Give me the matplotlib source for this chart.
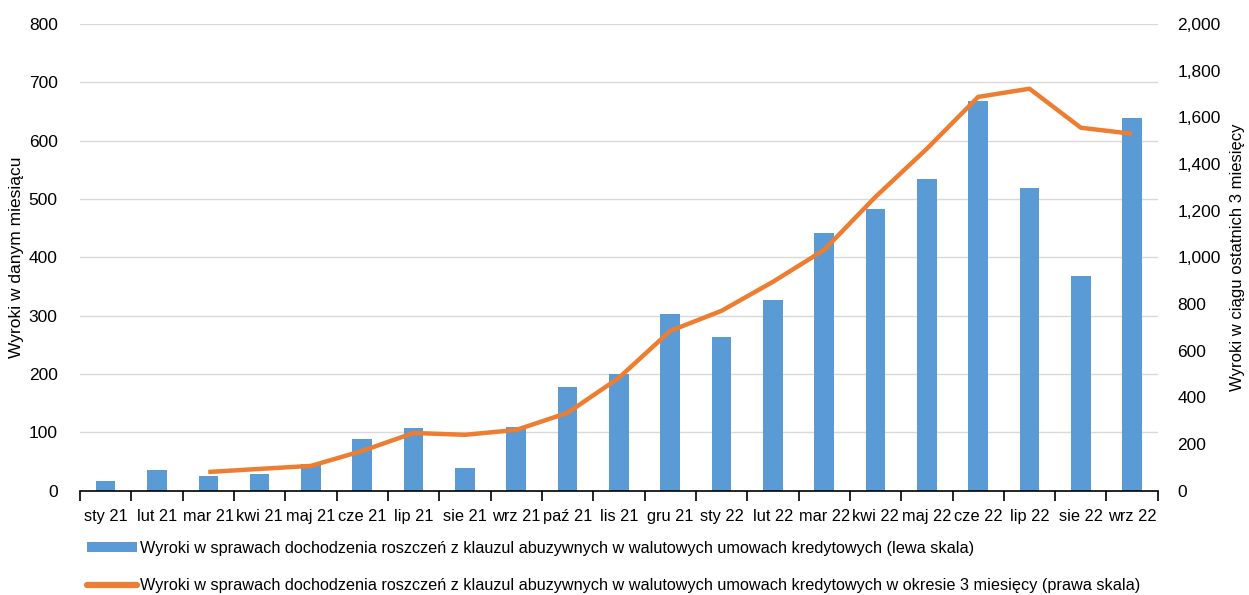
import matplotlib
matplotlib.use("Agg")
import matplotlib.pyplot as plt
from matplotlib.ticker import FuncFormatter, FixedLocator
from matplotlib.patches import Patch
from matplotlib.lines import Line2D

plt.rcParams['font.family'] = ['Liberation Sans', 'DejaVu Sans']

months = ["sty 21", "lut 21", "mar 21", "kwi 21", "maj 21", "cze 21", "lip 21",
          "sie 21", "wrz 21", "paź 21", "lis 21", "gru 21", "sty 22", "lut 22",
          "mar 22", "kwi 22", "maj 22", "cze 22", "lip 22", "sie 22", "wrz 22"]
monthly = [17, 36, 26, 29, 46, 89, 108, 39, 110, 178, 200, 303, 264, 327,
           442, 483, 534, 668, 519, 368, 639]
rolling3 = [None, None, 81, 94, 107, 171, 248, 240, 261, 334, 484, 685, 771,
            895, 1032, 1259, 1465, 1687, 1722, 1555, 1529]

label_bar = "Wyroki w sprawach dochodzenia roszczeń z klauzul abuzywnych w walutowych umowach kredytowych (lewa skala)"
label_line = "Wyroki w sprawach dochodzenia roszczeń z klauzul abuzywnych w walutowych umowach kredytowych w okresie 3 miesięcy (prawa skala)"

blue = "#5B9BD5"
orange = "#ED7D31"

fig = plt.figure(figsize=(12.49, 5.95), dpi=100)
ax = fig.add_axes([0.064, 0.175, 0.863, 0.785])
n = len(months)
x = list(range(n))
ax.bar(x, monthly, width=0.38, color=blue, zorder=2)
ax.set_ylim(0, 800)
ax.set_xlim(-0.5, n - 0.5)
ax.set_yticks(range(0, 801, 100))
ax.grid(axis='y', color='#D9D9D9', lw=1, zorder=0)
ax.set_xticks(x)
ax.set_xticklabels(months)
ax.xaxis.set_minor_locator(FixedLocator([i - 0.5 for i in range(n + 1)]))
ax.tick_params(axis='x', which='major', length=0, labelsize=11.8, pad=13)
ax.tick_params(axis='x', which='minor', length=7, width=1.2, color='black', direction='out')
ax.tick_params(axis='y', length=0, labelsize=12.5, pad=16)
for s in ['top', 'right', 'left']:
    ax.spines[s].set_visible(False)
ax.spines['bottom'].set_color('black')
ax.spines['bottom'].set_linewidth(1.2)
ax.set_ylabel("Wyroki w danym miesiącu", fontsize=12.5)
ax.yaxis.set_label_coords(-0.052, 0.5)

ax2 = ax.twinx()
xs = [xi for xi, v in zip(x, rolling3) if v is not None]
ys = [v for v in rolling3 if v is not None]
ax2.plot(xs, ys, color=orange, lw=3.2, solid_capstyle='butt', zorder=3)
ax2.set_ylim(0, 2000)
ax2.set_yticks(range(0, 2001, 200))
ax2.yaxis.set_major_formatter(FuncFormatter(lambda v, p: f"{int(v):,}"))
ax2.tick_params(axis='y', length=0, labelsize=12.5, pad=14)
for s in ['top', 'right', 'left', 'bottom']:
    ax2.spines[s].set_visible(False)
ax2.set_ylabel("Wyroki w ciągu ostatnich 3 miesięcy", fontsize=12, rotation=90,
               va='center', ha='center')
ax2.yaxis.set_label_coords(1.0735, 0.5)

handles = [Patch(facecolor=blue, edgecolor='none'),
           Line2D([0], [0], color=orange, lw=4.5, solid_capstyle='round')]
fig.legend(handles, [label_bar, label_line], loc='lower left',
           bbox_to_anchor=(0.058, -0.022), frameon=False, fontsize=11.7,
           handlelength=3.1, handleheight=0.6, handletextpad=0.15, labelspacing=1.4)

fig.savefig("out.png", dpi=100)
